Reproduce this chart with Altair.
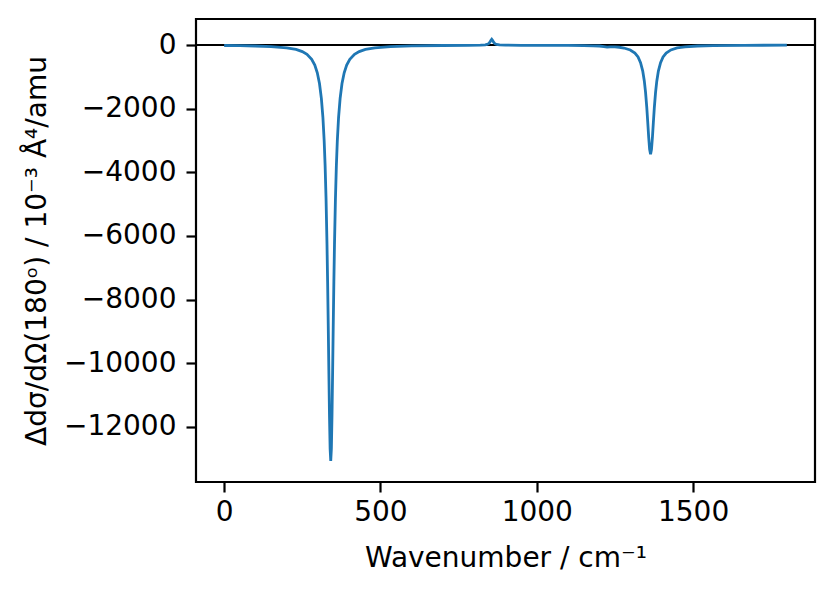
import altair as alt
import pandas as pd

# Wavenumber (cm^-1) and signal values
wavenumber = [0, 50, 100, 150, 200, 230, 250, 265, 280, 290,
              298, 305, 311, 316, 320, 323, 326, 329, 331, 333,
              335, 337, 339, 341, 343, 345, 347, 349, 351, 353,
              356, 359, 362, 366, 371, 377, 384, 392, 402, 417,
              432, 452, 482, 532, 600, 700, 780, 820, 835, 841,
              846, 850, 853, 856, 859, 862, 866, 871, 881, 900,
              950, 1000, 1050, 1100, 1150, 1180, 1200, 1215, 1225, 1235,
              1250, 1264, 1279, 1299, 1314, 1324, 1332, 1339, 1344, 1348,
              1352, 1355, 1358, 1361, 1364, 1367, 1370, 1373, 1376, 1380,
              1384, 1389, 1396, 1404, 1414, 1429, 1449, 1474, 1514, 1564,
              1664, 1800]
signal = [-15, -20, -30, -47, -86, -139, -205, -293, -449, -632,
          -873, -1210, -1675, -2283, -3016, -3790, -4841, -6261, -7442, -8809,
          -10277, -11661, -12687, -13070, -12687, -11661, -10277, -8809, -7442, -6261,
          -4841, -3790, -3016, -2283, -1675, -1210, -873, -632, -449, -293,
          -205, -139, -86, -47, -26, -15, -10, -5, 5, 17,
          41, 86, 143, 181, 143, 86, 41, 17, 2, -5,
          -8, -9, -10, -13, -17, -24, -31, -47, -67, -57,
          -56, -70, -94, -155, -251, -376, -553, -819, -1128, -1487,
          -1977, -2427, -2898, -3279, -3430, -3279, -2898, -2427, -1977, -1487,
          -1128, -819, -553, -376, -251, -154, -93, -56, -31, -18,
          -8, -4]

x_ticks = [0, 500, 1000, 1500]
y_ticks = [-12000, -10000, -8000, -6000, -4000, -2000, 0]
zero_level = [0]

df = pd.DataFrame({"w": wavenumber, "s": signal})
zero_df = pd.DataFrame({"z": zero_level})

FONT = "DejaVu Sans"
FS = 28

x_scale = alt.Scale(domain=[-90, 1890], nice=False, zero=False)
y_scale = alt.Scale(domain=[-13732, 818], nice=False, zero=False)

x_axis = alt.Axis(
    values=x_ticks, format="d", title="Wavenumber / cm⁻¹",
    grid=False, domain=False, tickColor="black", tickWidth=2.2, tickSize=10,
    labelFont=FONT, labelFontSize=FS, labelColor="black", labelPadding=6,
    titleFont=FONT, titleFontSize=FS, titleFontWeight="normal", titleColor="black",
    titleY=84, titleBaseline="alphabetic",
)
y_axis = alt.Axis(
    values=y_ticks, format="d", title="Δdσ/dΩ(180ᵒ) / 10⁻³ Å⁴/amu",
    grid=False, domain=False, tickColor="black", tickWidth=2.2, tickSize=10,
    labelFont=FONT, labelFontSize=FS, labelColor="black", labelPadding=10,
    titleFont=FONT, titleFontSize=FS, titleFontWeight="normal", titleColor="black",
    titleX=-159, titleY=231.5, titleAngle=270, titleAlign="center", titleBaseline="middle",
)

zero_line = alt.Chart(zero_df).mark_rule(color="black", strokeWidth=2.0).encode(
    y=alt.Y("z:Q", scale=y_scale, axis=y_axis)
)

curve = alt.Chart(df).mark_line(color="#1f77b4", strokeWidth=2.8, interpolate="linear").encode(
    x=alt.X("w:Q", scale=x_scale, axis=x_axis),
    y=alt.Y("s:Q", scale=y_scale, axis=y_axis),
)

chart = alt.layer(zero_line, curve).properties(
    width=619, height=463,
    autosize=alt.AutoSizeParams(type="none"),
    padding={"left": 196, "top": 19, "right": 20, "bottom": 110},
    background="white",
).configure_view(stroke="black", strokeWidth=2.2)

chart.save("out.html", embed_options={"renderer": "svg", "actions": False})
